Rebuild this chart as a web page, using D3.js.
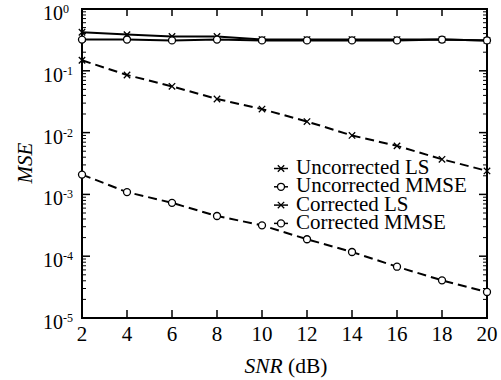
<!DOCTYPE html>
<html><head><meta charset="utf-8">
<script src="https://cdn.jsdelivr.net/npm/d3@7"></script>
<style>body{margin:0;background:#fff}svg{display:block}</style>
</head><body><svg id="c" width="501" height="380"></svg>
<script>
const snr = [2,4,6,8,10,12,14,16,18,20];
const uncorrectedLS = [0.42,0.385,0.36,0.36,0.32,0.32,0.32,0.32,0.32,0.31];
const uncorrectedMMSE = [0.32,0.32,0.31,0.32,0.31,0.31,0.31,0.31,0.32,0.31];
const correctedLS = [0.148,0.0855,0.056,0.035,0.024,0.0151,0.0090,0.0061,0.0037,0.0024];
const correctedMMSE = [0.00209,0.00109,0.00073,0.000447,0.000316,0.000188,0.000117,0.0000676,0.0000407,0.0000264];
const xTicks = [2,4,6,8,10,12,14,16,18,20];
const yExps = [0,-1,-2,-3,-4,-5];
const seriesNames = ["Uncorrected LS","Uncorrected MMSE","Corrected LS","Corrected MMSE"];

const svg = d3.select("#c");
const L=82,R=487,T=9,B=318;
const x = d3.scaleLinear().domain([2,20]).range([L,R]);
const y = d3.scaleLog().domain([1e-5,1]).range([B,T]);
const font = "'Liberation Serif','Times New Roman',serif";

// frame
svg.append("rect").attr("x",L).attr("y",T).attr("width",R-L).attr("height",B-T)
  .attr("fill","none").attr("stroke","#000").attr("stroke-width",2);

// x ticks
const xt = svg.append("g");
xTicks.forEach(v=>{
  xt.append("line").attr("x1",x(v)).attr("x2",x(v)).attr("y1",B).attr("y2",B-8).attr("stroke","#000").attr("stroke-width",1.5);
  xt.append("line").attr("x1",x(v)).attr("x2",x(v)).attr("y1",T).attr("y2",T+7).attr("stroke","#000").attr("stroke-width",1.5);
  xt.append("text").attr("x",x(v)).attr("y",341).attr("text-anchor","middle")
    .attr("font-family",font).attr("font-size",21).text(v);
});

// y ticks
const yt = svg.append("g");
yExps.forEach(e=>{
  const v = Math.pow(10,e);
  yt.append("line").attr("x1",L).attr("x2",L+8).attr("y1",y(v)).attr("y2",y(v)).attr("stroke","#000").attr("stroke-width",1.5);
  yt.append("line").attr("x1",R).attr("x2",R-8).attr("y1",y(v)).attr("y2",y(v)).attr("stroke","#000").attr("stroke-width",1.5);
  const t = yt.append("text").attr("x",43).attr("y",y(v)+11)
    .attr("font-family",font).attr("font-size",20);
  t.append("tspan").text("10");
  t.append("tspan").attr("dy",-7).attr("font-size",12).text(String(e));
  if(e>-5){
    for(let k=2;k<=9;k++){
      const mv = v/10*k;
      yt.append("line").attr("x1",L).attr("x2",L+4).attr("y1",y(mv)).attr("y2",y(mv)).attr("stroke","#000").attr("stroke-width",1);
      yt.append("line").attr("x1",R).attr("x2",R-4).attr("y1",y(mv)).attr("y2",y(mv)).attr("stroke","#000").attr("stroke-width",1);
    }
  }
});

// axis titles
const xl = svg.append("text").attr("x",286).attr("y",373).attr("text-anchor","middle")
  .attr("font-family",font).attr("font-size",21.5);
xl.append("tspan").attr("font-style","italic").text("SNR");
xl.append("tspan").text(" (dB)");
svg.append("text").attr("transform","translate(32,163) rotate(-90)").attr("text-anchor","middle")
  .attr("font-family",font).attr("font-size",21).attr("font-style","italic").text("MSE");

// series
const series = [
  {name:seriesNames[0],vals:uncorrectedLS,dash:null,marker:"x"},
  {name:seriesNames[1],vals:uncorrectedMMSE,dash:null,marker:"o"},
  {name:seriesNames[2],vals:correctedLS,dash:"9,5",marker:"x"},
  {name:seriesNames[3],vals:correctedMMSE,dash:"9,5",marker:"o"}
];
const line = d3.line().x(d=>x(d[0])).y(d=>y(d[1]));
function marker(g,cx,cy,type){
  if(type==="x"){
    const s=3.2;
    g.append("path").attr("d",`M${cx-s},${cy-s}L${cx+s},${cy+s}M${cx-s},${cy+s}L${cx+s},${cy-s}`)
      .attr("stroke","#000").attr("stroke-width",1.3).attr("fill","none");
  } else {
    g.append("circle").attr("cx",cx).attr("cy",cy).attr("r",3.5)
      .attr("fill","#fff").attr("stroke","#000").attr("stroke-width",1.3);
  }
}
const sg = svg.append("g");
series.forEach(s=>{
  const pts = snr.map((v,i)=>[v,s.vals[i]]);
  sg.append("path").attr("d",line(pts)).attr("fill","none").attr("stroke","#000")
    .attr("stroke-width",2).attr("stroke-dasharray",s.dash);
  pts.forEach(p=>marker(sg,x(p[0]),y(p[1]),s.marker));
});

// legend
const lg = svg.append("g");
series.forEach((s,i)=>{
  const base = 174 + i*18.3;
  const yy = base - 5.5;
  lg.append("line").attr("x1",274).attr("x2",288).attr("y1",yy).attr("y2",yy).attr("stroke","#000").attr("stroke-width",1.5);
  marker(lg,281,yy,s.marker);
  lg.append("text").attr("x",296).attr("y",base).attr("font-family",font).attr("font-size",21).text(s.name);
});
</script></body></html>
